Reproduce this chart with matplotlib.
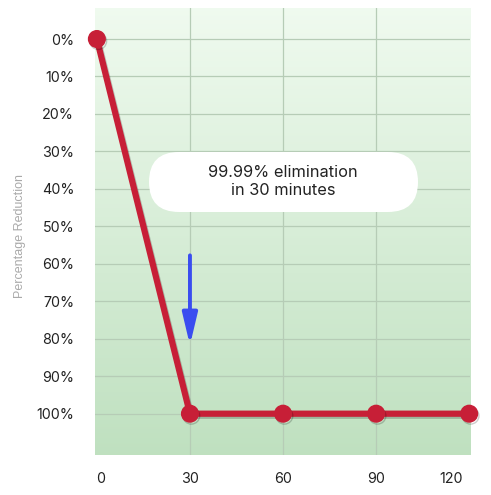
import matplotlib
matplotlib.use("Agg")
import matplotlib.pyplot as plt
import numpy as np
from matplotlib.patches import FancyBboxPatch
from matplotlib.transforms import Affine2D, ScaledTranslation
import matplotlib.patheffects as pe

minutes = [0, 30, 60, 90, 120]
reduction = [0, 100, 100, 100, 100]
x_ticks = [0, 30, 60, 90, 120]
y_ticks = [0, 10, 20, 30, 40, 50, 60, 70, 80, 90, 100]
y_ticklabels = [f"{v}%" for v in y_ticks]
note_text = "99.99% elimination\nin 30 minutes"

plt.rcParams['font.family'] = ['Inter', 'DejaVu Sans']

fig = plt.figure(figsize=(4.91, 4.95), dpi=100)
ax = fig.add_axes([0.1935, 0.081, 0.764, 0.903])

xlim = (-0.6, 120.3)
ylim = (111.0, -8.3)
ax.set_xlim(*xlim)
ax.set_ylim(*ylim)

# gradient background
top = np.array([0.940, 0.982, 0.938])
bot = np.array([0.750, 0.880, 0.752])
t = np.linspace(0, 1, 256)[:, None]
grad = top[None, :] * (1 - t) + bot[None, :] * t
grad = np.repeat(grad[:, None, :], 2, axis=1)
ax.imshow(grad, extent=[xlim[0], xlim[1], ylim[0], ylim[1]], aspect='auto', zorder=0, origin='upper')

ax.set_xticks(x_ticks)
ax.set_yticks(y_ticks)
ax.set_yticklabels(y_ticklabels)
ax.grid(True, axis='y', color='#b6ccb6', linewidth=0.9, zorder=1)
for xv in x_ticks[1:-1]:
    ax.axvline(xv, color='#b6ccb6', linewidth=0.9, zorder=1)
for s in ax.spines.values():
    s.set_visible(False)
ax.tick_params(length=0, labelsize=10.3, colors='#222222')
ax.tick_params(axis='y', pad=15)
ax.tick_params(axis='x', pad=12)
xl = ax.get_xticklabels()
xl[0].set_transform(xl[0].get_transform() + ScaledTranslation(4 / 100, 0, fig.dpi_scale_trans))
xl[-1].set_transform(xl[-1].get_transform() + ScaledTranslation(-18 / 100, 0, fig.dpi_scale_trans))

ax.set_ylabel("Percentage Reduction", fontsize=9, color='#aaaaaa',
              family=['Liberation Sans', 'DejaVu Sans'])
ax.yaxis.set_label_coords(-0.185, 0.49)

ax.plot(minutes, reduction, color='#c71f37', linewidth=4.5, marker='o', markersize=12,
        zorder=4, clip_on=False, solid_capstyle='round',
        path_effects=[pe.SimpleLineShadow(offset=(1, -1.5), alpha=0.2), pe.Normal()])

# annotation pill (pixel coords, top-left origin)
box = FancyBboxPatch((149, 152), 269, 60, boxstyle="round,pad=0,rounding_size=30",
                     facecolor='white', edgecolor='none', zorder=5)
box.set_transform(Affine2D().scale(1, -1).translate(0, 495))
box.set_figure(fig)
fig.patches.append(box)
fig.text(283 / 491, 1 - 182 / 495, note_text, ha='center', va='center', fontsize=11.8,
         color='#222222', linespacing=1.25, zorder=6)

ax.annotate("", xy=(30, 82.5), xytext=(30, 57),
            arrowprops=dict(arrowstyle='-|>,head_width=0.45,head_length=1.9', color='#3a4df0', lw=2.8),
            zorder=6)

fig.savefig("out.png", dpi=100)
